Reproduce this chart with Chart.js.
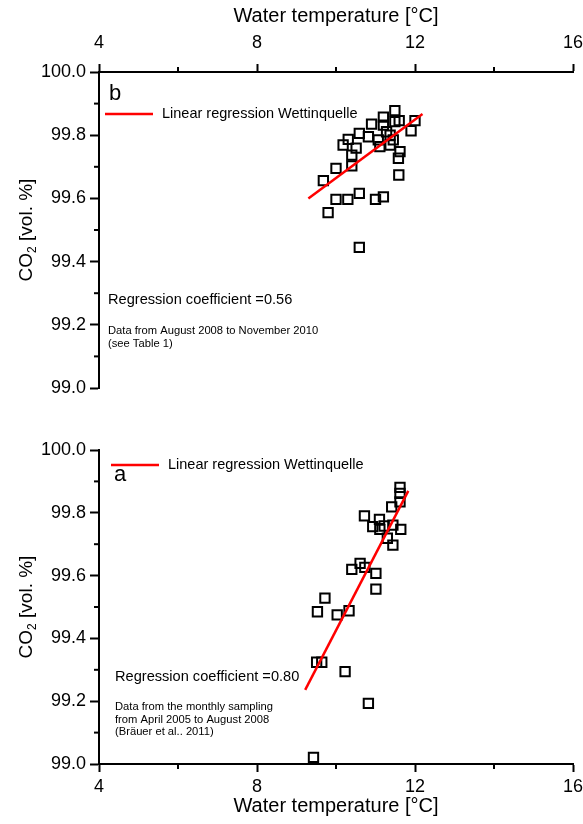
<!DOCTYPE html>
<html>
<head>
<meta charset="utf-8">
<script src="https://cdn.jsdelivr.net/npm/chart.js@4.4.1/dist/chart.umd.min.js"></script>
<style>
  body { margin: 0; background: #fff; }
  #wrap { position: relative; width: 583px; height: 824px; }
  canvas { position: absolute; left: 0; }
</style>
</head>
<body>
<div id="wrap">
  <canvas id="panel-b" width="583" height="420" style="top:0"></canvas>
  <canvas id="panel-a" width="583" height="404" style="top:420px"></canvas>
</div>
<script>
// panel b: August 2008 - November 2010
const tempB = [11.49, 11.2, 11.6, 12.0, 10.9, 11.2, 11.9, 10.59, 10.82, 11.28, 10.31, 10.18, 10.51, 11.11,
               11.45, 11.37, 11.62, 10.4, 11.58, 10.0, 10.4, 11.59, 9.68, 10.0, 10.3, 10.59, 11.0, 11.2,
               9.8, 10.59, 11.49, 11.37, 11.07];
const co2B = [99.878, 99.857, 99.846, 99.846, 99.835, 99.832, 99.814, 99.806, 99.795, 99.811, 99.787, 99.769,
              99.759, 99.764, 99.785, 99.769, 99.748, 99.737, 99.727, 99.695, 99.703, 99.674, 99.656, 99.597,
              99.597, 99.616, 99.597, 99.605, 99.555, 99.445, 99.843, 99.8, 99.785];
const regTempB = [9.3, 12.19];
const regCo2B = [99.60, 99.867];

// panel a: monthly sampling April 2005 - August 2008
const tempA = [11.62, 11.62, 11.62, 11.41, 10.72, 11.1, 10.93, 11.22, 11.44, 11.64, 11.11, 11.3, 11.44,
               10.61, 10.73, 10.4, 11.01, 11.01, 9.72, 9.53, 10.03, 10.33, 9.51, 9.64, 10.23, 10.82, 9.43];
const co2A = [99.881, 99.862, 99.835, 99.819, 99.79, 99.779, 99.756, 99.758, 99.761, 99.747, 99.747, 99.719,
              99.697, 99.639, 99.626, 99.62, 99.607, 99.557, 99.528, 99.485, 99.475, 99.488, 99.324, 99.324,
              99.294, 99.193, 99.021];
const regTempA = [9.22, 11.83];
const regCo2A = [99.236, 99.870];

const tempTicks = [4, 8, 12, 16];
const tempMinor = [6, 10, 14];
const co2Minor = [99.1, 99.3, 99.5, 99.7, 99.9];

const fuente = 'Arial, "Liberation Sans", sans-serif';

function puntos(xs, ys) {
  return xs.map((x, i) => ({ x: x, y: ys[i] }));
}

// texto, leyenda, titulo del eje y y marcas menores
const textoPanel = {
  id: 'textoPanel',
  afterDraw(chart, args, o) {
    const c = chart.ctx;
    const area = chart.chartArea;
    const sx = chart.scales.x;
    const sy = chart.scales.y;
    c.save();
    c.strokeStyle = '#000';
    c.lineWidth = 2;
    tempMinor.forEach(v => {
      const px = sx.getPixelForValue(v);
      c.beginPath();
      if (o.arriba) { c.moveTo(px, area.top); c.lineTo(px, area.top - 5); }
      else { c.moveTo(px, area.bottom); c.lineTo(px, area.bottom + 5); }
      c.stroke();
    });
    co2Minor.forEach(v => {
      const py = sy.getPixelForValue(v);
      c.beginPath();
      c.moveTo(area.left, py);
      c.lineTo(area.left - 5, py);
      c.stroke();
    });

    // titulo eje y con subindice
    c.fillStyle = '#000';
    c.translate(27, (area.top + area.bottom) / 2);
    c.rotate(-Math.PI / 2);
    c.textBaseline = 'middle';
    c.font = '19px ' + fuente;
    const w1 = c.measureText('CO').width;
    c.font = '12px ' + fuente;
    const w2 = c.measureText('2').width;
    c.font = '19px ' + fuente;
    const w3 = c.measureText(' [vol. %]').width;
    let x0 = -(w1 + w2 + w3) / 2;
    c.textAlign = 'left';
    c.fillText('CO', x0, 0);
    c.font = '12px ' + fuente;
    c.fillText('2', x0 + w1, 6);
    c.font = '19px ' + fuente;
    c.fillText(' [vol. %]', x0 + w1 + w2, 0);
    c.setTransform(1, 0, 0, 1, 0, 0);

    // letra del panel
    c.textAlign = 'center';
    c.textBaseline = 'middle';
    c.font = '22px ' + fuente;
    c.fillText(o.letra, o.letraX, o.letraY);

    // leyenda
    c.strokeStyle = '#ff0000';
    c.lineWidth = 2.5;
    c.beginPath();
    c.moveTo(o.leyX, o.leyY);
    c.lineTo(o.leyX + 48, o.leyY);
    c.stroke();
    c.textAlign = 'left';
    c.font = '14.5px ' + fuente;
    c.fillText('Linear regression Wettinquelle', o.leyX + 57, o.leyY);

    c.font = '14.6px ' + fuente;
    c.fillText(o.coef, o.textoX, o.coefY);
    c.font = '11.2px ' + fuente;
    o.notas.forEach((t, i) => c.fillText(t, o.textoX, o.notasY + i * 12.5));
    c.restore();
  }
};

function crearPanel(id, xs, ys, rx, ry, arriba, extra) {
  const ctx = document.getElementById(id).getContext('2d');
  return new Chart(ctx, {
    type: 'scatter',
    data: {
      datasets: [{
        data: puntos(rx, ry),
        showLine: true,
        borderColor: '#ff0000',
        borderWidth: 2.5,
        pointRadius: 0
      }, {
        data: puntos(xs, ys),
        pointStyle: 'rect',
        pointRadius: 6.6,
        pointBorderWidth: 2,
        borderColor: '#000',
        backgroundColor: 'rgba(0,0,0,0)'
      }]
    },
    options: {
      responsive: false,
      animation: false,
      layout: { padding: arriba ? { top: 0, right: 0, bottom: 32, left: 0 } : { top: 30, right: 0, bottom: 0, left: 0 } },
      plugins: {
        legend: { display: false },
        tooltip: { enabled: false },
        textoPanel: extra
      },
      scales: {
        x: {
          type: 'linear',
          position: arriba ? 'top' : 'bottom',
          min: 4, max: 16,
          afterBuildTicks: s => { s.ticks = tempTicks.map(v => ({ value: v })); },
          afterFit: s => {
            s.height = arriba ? 72 : 60;
            s.paddingLeft = 0;
            s.paddingRight = 10;
          },
          ticks: { color: '#000', font: { family: fuente, size: 18 }, padding: arriba ? 10 : 4, maxRotation: 0 },
          grid: { drawOnChartArea: false, drawTicks: true, tickLength: 8, tickWidth: 2, tickColor: '#000' },
          border: { display: true, color: '#000', width: 2 },
          title: { display: true, text: 'Water temperature [°C]', color: '#000', font: { family: fuente, size: 20 },
                   padding: arriba ? { top: 4, bottom: 0 } : { top: 0, bottom: 6 } }
        },
        y: {
          type: 'linear',
          min: 99, max: 100,
          afterFit: s => { s.width = 99; },
          ticks: { stepSize: 0.2, color: '#000', font: { family: fuente, size: 18 }, padding: 4, callback: v => v.toFixed(1) },
          grid: { drawOnChartArea: false, drawTicks: true, tickLength: 9, tickWidth: 2, tickColor: '#000' },
          border: { display: true, color: '#000', width: 2 }
        }
      }
    },
    plugins: [textoPanel]
  });
}

crearPanel('panel-b', tempB, co2B, regTempB, regCo2B, true, {
  arriba: true, letra: 'b', letraX: 115, letraY: 94,
  leyX: 105, leyY: 114, textoX: 108,
  coef: 'Regression coefficient =0.56', coefY: 300,
  notas: ['Data from August 2008 to November 2010', '(see Table 1)'], notasY: 331
});

crearPanel('panel-a', tempA, co2A, regTempA, regCo2A, false, {
  arriba: false, letra: 'a', letraX: 120, letraY: 55,
  leyX: 111, leyY: 45, textoX: 115,
  coef: 'Regression coefficient =0.80', coefY: 257,
  notas: ['Data from the monthly sampling', 'from April 2005 to August 2008', '(Bräuer et al.. 2011)'], notasY: 287
});
</script>
</body>
</html>
